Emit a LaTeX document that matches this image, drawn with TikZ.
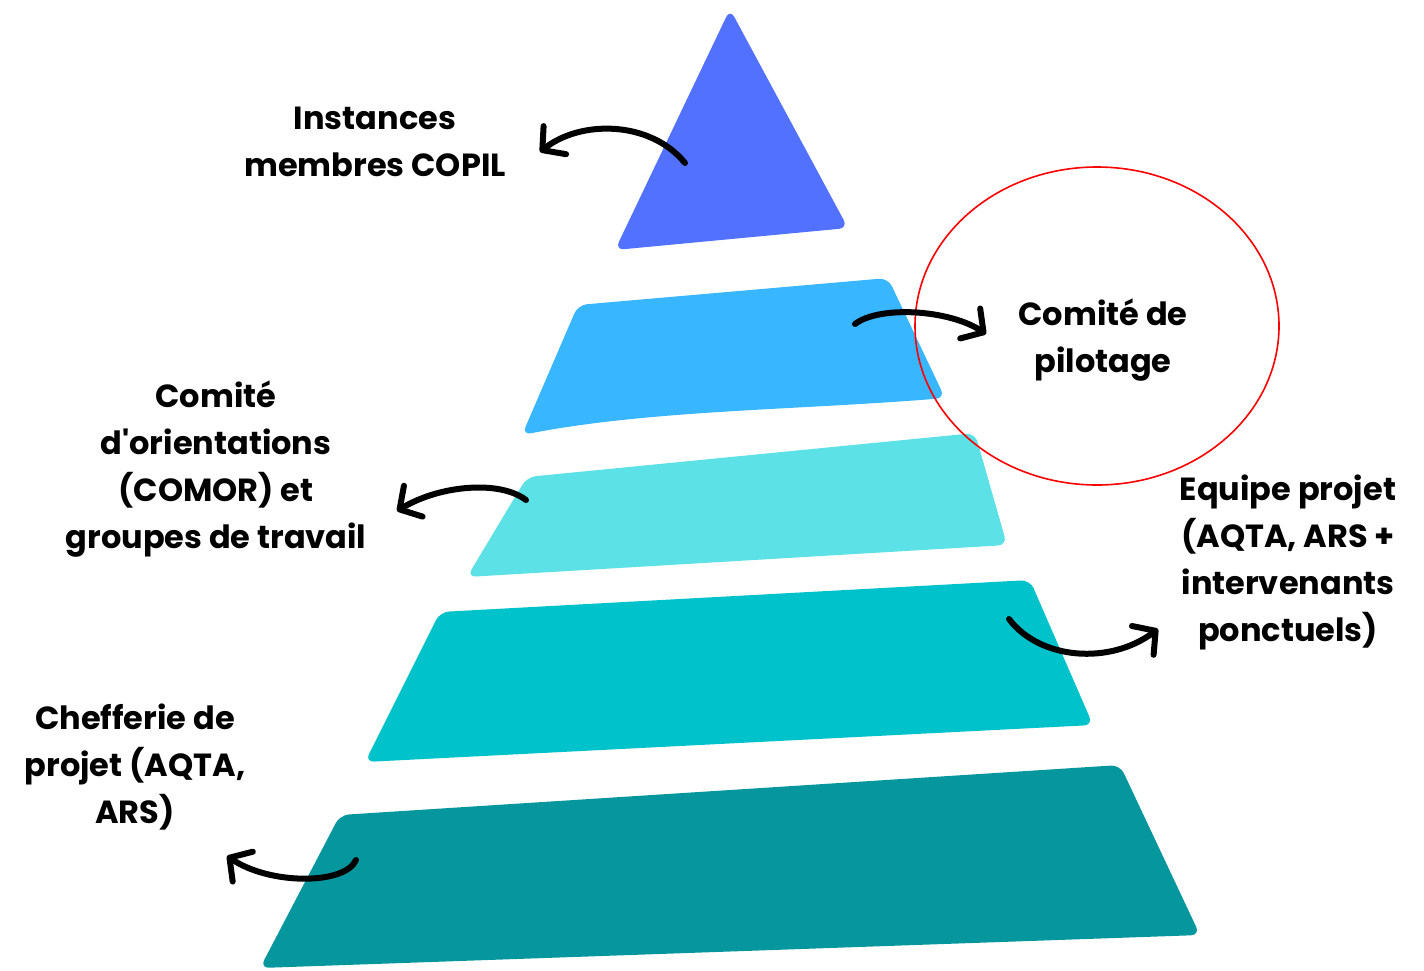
\documentclass[tikz,border=0pt]{standalone}
\usepackage{fontspec}
% label face without the TeX quote mapping, so ' stays straight
\newfontfamily\lblfont{Poppins}
\usetikzlibrary{arrows.meta,shapes.geometric}
\definecolor{tierA}{HTML}{5271FF}
\definecolor{tierB}{HTML}{38B6FF}
\definecolor{tierC}{HTML}{5CE1E6}
\definecolor{tierD}{HTML}{00C2CB}
\definecolor{tierE}{HTML}{05979D}
\tikzset{
  tier/.style={rounded corners=9pt},
  lbl/.style={align=center,font=\lblfont\fontsize{32}{47}\selectfont\bfseries,text=black,inner sep=0pt},
  pointer/.style={line width=6pt,line cap=round,black,
    -{Straight Barb[length=16pt,width=36pt,line width=6pt,round]}},
}
\begin{document}
\begin{tikzpicture}[x=1pt,y=-1pt]
\useasboundingbox (0,0) rectangle (1424,970);
% pyramid tiers
\fill[tierA,tier] (730,9) -- (848,228) -- (615,250) -- cycle;
\fill[tierB,tier] (578,305) -- (888,278) -- (945,398) .. controls (800,410) and (650,410) .. (522,435) -- cycle;
\fill[tierC,tier] (527,477) -- (975,433) -- (1007,545) -- (467,577) -- cycle;
\fill[tierD,tier] (440,612) -- (1030,580) -- (1093,725) -- (365,762) -- cycle;
\fill[tierE,tier] (340,815) -- (1120,765) -- (1200,935) -- (260,968) -- cycle;
% highlight ring
\node (ring) [draw=red,line width=1.6pt,ellipse,minimum width=364pt,minimum height=318pt,inner sep=0pt] at (1097,326) {};
% labels
\node (copil) [lbl] at (375,142) {Instances\\membres COPIL};
\node (pilot) [lbl] at (1103,340) {Comité de\\pilotage};
\node (comor) [lbl] at (216,469) {Comité\\d'orientations\\(COMOR) et\\groupes de travail};
\node (equipe) [lbl] at (1288,562) {Equipe projet\\(AQTA, ARS +\\intervenants\\ponctuels)};
\node (chef) [lbl] at (135,767) {Chefferie de\\projet (AQTA,\\ARS)};
% anchor points of the pointers
\coordinate (aS) at (685,163); \coordinate (aE) at (540,152);
\coordinate (bS) at (855,324); \coordinate (bE) at (986,334);
\coordinate (cS) at (526,500); \coordinate (cE) at (397,511);
\coordinate (dS) at (1009,619); \coordinate (dE) at (1158,629);
\coordinate (eS) at (356,860); \coordinate (eE) at (227,856);
% pointers
\draw[pointer] (aS) .. controls (650,120) and (580,120) .. (aE);
\draw[pointer] (bS) .. controls (880,305) and (950,310) .. (bE);
\draw[pointer] (cS) .. controls (500,480) and (440,485) .. (cE);
\draw[pointer] (dS) .. controls (1040,660) and (1110,665) .. (dE);
\draw[pointer] (eS) .. controls (345,885) and (270,885) .. (eE);
\end{tikzpicture}
\end{document}
